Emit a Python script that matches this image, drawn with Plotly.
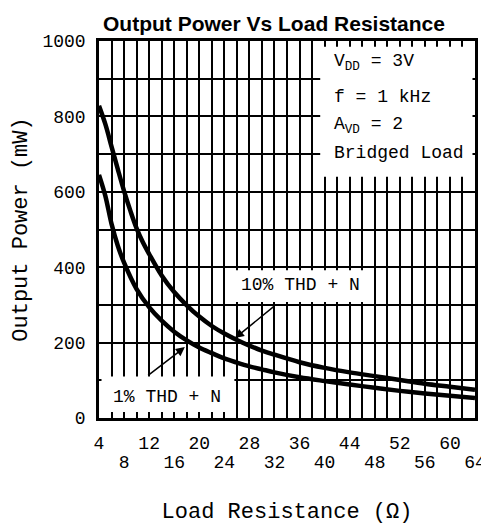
import plotly.graph_objects as go

# Load resistance (ohm) and output power (mW)
R_10 = [4, 5, 6, 7, 8, 9, 10, 11, 12, 14, 16, 18, 20, 22, 24, 26, 28, 30, 32,
        36, 40, 44, 48, 52, 56, 60, 64]
P_10 = [828, 780, 720, 660, 602, 550, 503, 466, 435, 378, 334, 299, 269, 244, 224,
        207, 192, 179, 168, 148, 133, 121, 111, 101, 91, 83, 75]

R_1 = [4, 5, 6, 7, 8, 10, 12, 14, 16, 18, 20, 22, 24, 26, 28, 30, 32, 36,
       40, 44, 48, 52, 56, 60, 64]
P_1 = [645, 590, 515, 457, 412, 342, 294, 258, 229, 206, 187, 172, 158, 147, 137,
       129, 121, 108, 98, 89, 80, 72, 65, 59, 53]

X_GRID = list(range(4, 65, 2))
X_ROW1 = [4, 12, 20, 28, 36, 44, 52, 60]
X_ROW2 = [8, 16, 24, 32, 40, 48, 56, 64]
Y_GRID = list(range(0, 1001, 100))
Y_LABELS = [0, 200, 400, 600, 800, 1000]

COND_LINES = ["V<sub>DD</sub> = 3V", "f = 1 kHz", "A<sub>VD</sub> = 2", "Bridged Load"]
COND_Y = [944, 851, 777, 703]

MONO = "Liberation Mono"
BLACK = "black"

fig = go.Figure()
fig.add_trace(go.Scatter(x=R_10, y=P_10, mode="lines", line_shape="spline",
                         line=dict(color=BLACK, width=4.5), showlegend=False))
fig.add_trace(go.Scatter(x=R_1, y=P_1, mode="lines", line_shape="spline",
                         line=dict(color=BLACK, width=4.5), showlegend=False,
                         xaxis="x2"))

# page body has an 8px margin, so the figure is 8px smaller than the window
fig.update_layout(
    width=481, height=517,
    margin=dict(l=91, r=14, t=33, b=107),
    paper_bgcolor="white", plot_bgcolor="white",
    font=dict(family=MONO, size=18, color=BLACK),
    title=dict(text="<b>Output Power Vs Load Resistance</b>",
               font=dict(family="Liberation Sans", size=21, color=BLACK),
               x=0.553, xref="container", xanchor="center",
               y=0.969, yref="container", yanchor="middle"),
    xaxis=dict(
        range=[4, 64], tickmode="array", tickvals=X_GRID,
        ticktext=[str(v) if v in X_ROW1 else "" for v in X_GRID],
        showgrid=True, gridcolor=BLACK, gridwidth=1.5,
        showline=True, linecolor=BLACK, linewidth=2.5, mirror=True,
        ticks="", ticklabelstandoff=7, zeroline=False, automargin=False,
        title=dict(text="Load Resistance (Ω)", standoff=61),
    ),
    xaxis2=dict(
        range=[4, 64], overlaying="x", side="bottom", matches="x",
        tickmode="array", tickvals=X_ROW2, ticktext=[str(v) for v in X_ROW2],
        showgrid=False, ticks="", ticklabelstandoff=31, zeroline=False,
        showline=False, automargin=False,
    ),
    yaxis=dict(
        range=[0, 1000], tickmode="array", tickvals=Y_GRID,
        ticktext=[str(v) if v in Y_LABELS else "" for v in Y_GRID],
        showgrid=True, gridcolor=BLACK, gridwidth=1.5,
        showline=True, linecolor=BLACK, linewidth=2.5, mirror=True,
        ticks="", ticklabelstandoff=7, zeroline=False, automargin=False,
        title=dict(text="Output Power (mW)", standoff=9),
    ),
)

# white label boxes that cut the grid
for x0, x1, y0, y1 in [(39.3, 63.6, 640, 985), (24.3, 47.5, 308, 392), (4.4, 25.6, 16, 110)]:
    fig.add_shape(type="rect", x0=x0, x1=x1, y0=y0, y1=y1, xref="x", yref="y",
                  fillcolor="white", line_width=0, layer="between")

for txt, yv in zip(COND_LINES, COND_Y):
    fig.add_annotation(x=41.2, y=yv, text=txt, showarrow=False, xanchor="left",
                       yanchor="middle", font=dict(family=MONO, size=18))

fig.add_annotation(x=36.1, y=352, text="10% THD + N", showarrow=False,
                   font=dict(family=MONO, size=18))
fig.add_annotation(x=14.8, y=55, text="1% THD + N", showarrow=False,
                   font=dict(family=MONO, size=18))

# pointer arrows
fig.add_annotation(x=25.7, y=212, ax=32.2, ay=300, axref="x", ayref="y", text="",
                   showarrow=True, arrowhead=2, arrowsize=1.2, arrowwidth=1.5, arrowcolor=BLACK)
fig.add_annotation(x=17.7, y=188, ax=11.6, ay=110, axref="x", ayref="y", text="",
                   showarrow=True, arrowhead=2, arrowsize=1.2, arrowwidth=1.5, arrowcolor=BLACK)

fig.write_html("out.html")
